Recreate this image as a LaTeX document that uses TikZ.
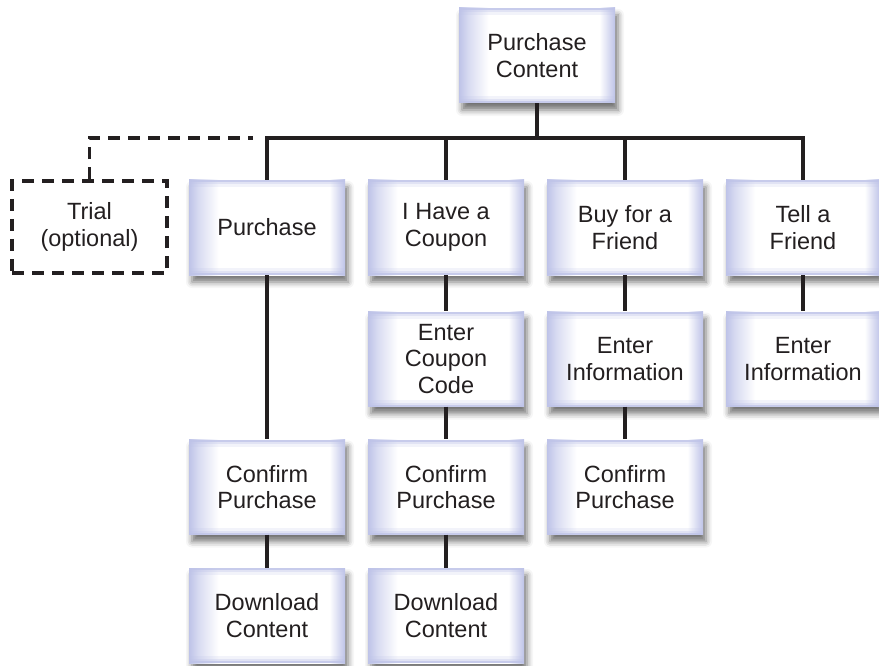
\documentclass[tikz,border=0pt]{standalone}
\usepackage{fontspec}
\setmainfont{Liberation Sans}
\usetikzlibrary{shadows.blur}
\definecolor{edgeblue}{RGB}{190,195,232}
\definecolor{ink}{RGB}{35,31,32}
\pgfdeclarehorizontalshading{boxh}{100bp}{color(0bp)=(edgeblue); color(25bp)=(edgeblue); color(28bp)=(edgeblue!60!white); color(34.5bp)=(white); color(70bp)=(white); color(73bp)=(edgeblue!60!white); color(75bp)=(edgeblue); color(100bp)=(edgeblue)}
\begin{document}
\begin{tikzpicture}[x=1pt,y=-1pt,
  lbl/.style={font=\fontsize{23.5}{26.5}\selectfont, text=ink, align=center},
  box/.style={lbl, minimum width=156pt, minimum height=95pt, inner sep=0pt, shading=boxh,
    blur shadow={shadow xshift=3pt, shadow yshift=-7pt, shadow blur radius=6pt, shadow opacity=55},
    path picture={
      \fill[edgeblue, opacity=0.85] (path picture bounding box.north west) rectangle ([yshift=-2pt]path picture bounding box.north east);
      \fill[edgeblue, opacity=0.45] ([yshift=-2pt]path picture bounding box.north west) rectangle ([yshift=-4pt]path picture bounding box.north east);
      \fill[edgeblue, opacity=0.2] ([yshift=-4pt]path picture bounding box.north west) rectangle ([yshift=-7pt]path picture bounding box.north east);
      \fill[edgeblue, opacity=0.85] (path picture bounding box.south west) rectangle ([yshift=2pt]path picture bounding box.south east);
      \fill[edgeblue, opacity=0.45] ([yshift=2pt]path picture bounding box.south west) rectangle ([yshift=4pt]path picture bounding box.south east);
      \fill[edgeblue, opacity=0.2] ([yshift=4pt]path picture bounding box.south west) rectangle ([yshift=7pt]path picture bounding box.south east);
    }},
  trialbox/.style={lbl, minimum width=155pt, minimum height=92pt, inner sep=0pt, draw=ink, line width=3.5pt, dash pattern=on 12pt off 8pt},
  conn/.style={draw=ink, line width=4pt},
  dconn/.style={draw=ink, line width=3.5pt, dash pattern=on 12pt off 8pt}
 ]
\useasboundingbox (0,0) rectangle (879,666);

\node[box] (top) at (537,55.5) {Purchase\\Content};

\node[box] (p1) at (267,227.5) {Purchase};
\node[box] (c1) at (446,227.5) {I Have a\\Coupon};
\node[box] (b1) at (625,227.5) {Buy for a\\Friend};
\node[box, minimum width=154pt] (t1) at (803,227.5) {Tell a\\Friend};

\node[trialbox] (trial) at (89.5,227) {Trial\\(optional)};

\node[box] (ec2) at (446,359) {Enter\\Coupon\\Code};
\node[box] (ei3) at (625,359) {Enter\\Information};
\node[box, minimum width=154pt] (ei4) at (803,359) {Enter\\Information};

\node[box] (cp1) at (267,487) {Confirm\\Purchase};
\node[box] (cp2) at (446,487) {Confirm\\Purchase};
\node[box] (cp3) at (625,487) {Confirm\\Purchase};

\node[box] (dl1) at (267,615.5) {Download\\Content};
\node[box] (dl2) at (446,615.5) {Download\\Content};

\coordinate (bar) at (0,138);
\coordinate (dend) at (253,138);

\draw[conn] (top.south) -- (top.south |- bar);
\draw[conn, line join=miter] (p1.north) -- (p1.north |- bar) -- (t1.north |- bar) -- (t1.north);
\draw[conn] (c1.north) -- (c1.north |- bar);
\draw[conn] (b1.north) -- (b1.north |- bar);

\draw[dconn] (trial.north) -- (trial.north |- bar) -- (dend);

\draw[conn] (p1.south) -- (cp1.north);
\draw[conn] (cp1.south) -- (dl1.north);
\draw[conn] (c1.south) -- (ec2.north);
\draw[conn] (ec2.south) -- (cp2.north);
\draw[conn] (cp2.south) -- (dl2.north);
\draw[conn] (b1.south) -- (ei3.north);
\draw[conn] (ei3.south) -- (cp3.north);
\draw[conn] (t1.south) -- (ei4.north);
\end{tikzpicture}
\end{document}
